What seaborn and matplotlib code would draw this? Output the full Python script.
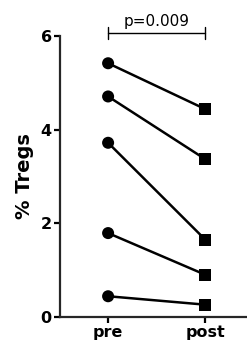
import numpy as np
import pandas as pd
import matplotlib
matplotlib.use("Agg")
import matplotlib.pyplot as plt
import seaborn as sns

# paired % Tregs per subject, before and after
timepoints = ['pre', 'post']
pre_values = [5.42, 4.71, 3.72, 1.79, 0.44]
post_values = [4.44, 3.37, 1.65, 0.90, 0.26]
p_label = 'p=0.009'

rows = []
for subj, (a, b) in enumerate(zip(pre_values, post_values)):
    rows.append({'subject': subj, 'time': 'pre', 'value': a})
    rows.append({'subject': subj, 'time': 'post', 'value': b})
df = pd.DataFrame(rows)
df['x'] = df['time'].map({t: i for i, t in enumerate(timepoints)})

sns.set_style('ticks')
plt.rcParams['font.family'] = ['DejaVu Sans']
plt.rcParams['text.color'] = 'black'
plt.rcParams['axes.labelcolor'] = 'black'

fig = plt.figure(figsize=(2.47, 3.54), dpi=100)
ax = fig.add_axes([0.243, 0.105, 0.757, 0.793])

sns.lineplot(data=df, x='x', y='value', units='subject', estimator=None,
             color='black', linewidth=1.8, ax=ax, legend=False)
sns.scatterplot(data=df, x='x', y='value', style='time',
                markers={'pre': 'o', 'post': 's'}, color='black',
                s=75, edgecolor='black', linewidth=0, ax=ax, legend=False,
                zorder=3)

ax.set_xlim(-0.495, 1.43)
ax.set_ylim(0, 6)
ax.set_yticks([0, 2, 4, 6])
ax.set_yticklabels(['0', '2', '4', '6'], fontweight='bold', fontsize=11.5)
ax.set_xticks(range(len(timepoints)))
ax.set_xticklabels(timepoints, fontweight='bold', fontsize=11.5)
ax.set_xlabel('')
ax.set_ylabel('% Tregs', fontweight='bold', fontsize=14, labelpad=5)

for side in ['top', 'right']:
    ax.spines[side].set_visible(False)
for side in ['left', 'bottom']:
    ax.spines[side].set_linewidth(1.6)
ax.tick_params(axis='both', length=4, width=1.6, pad=2, colors='black')

# significance bracket
yb = 6.07
ax.plot([0, 1], [yb, yb], color='black', lw=1.0, clip_on=False)
for xx in [0, 1]:
    ax.plot([xx, xx], [yb - 0.13, yb + 0.13], color='black', lw=1.0, clip_on=False)
ax.text(0.5, yb + 0.08, p_label, ha='center', va='bottom', fontsize=11)

fig.savefig('out.png', dpi=100)
